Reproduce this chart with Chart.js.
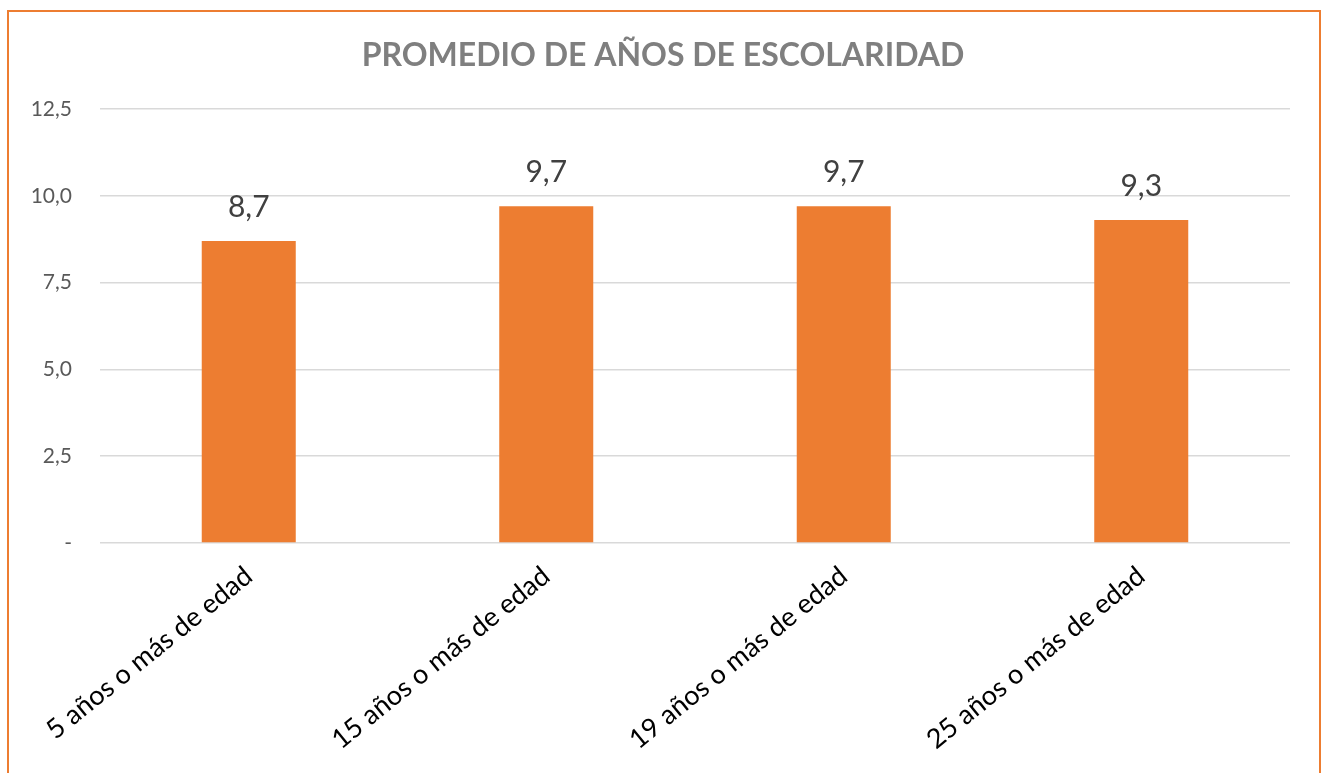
<!DOCTYPE html>
<html>
<head>
<meta charset="utf-8">
<script src="https://cdn.jsdelivr.net/npm/chart.js@4.4.1/dist/chart.umd.min.js"></script>
<style>
  html, body { margin: 0; padding: 0; background: #fff; }
  #wrap { position: relative; width: 1321px; height: 773px; overflow: hidden; }
  #frame { position: absolute; left: 7px; top: 10px; width: 1310px; height: 800px; border: 2px solid #ed7d31; }
  #c { position: absolute; left: 0; top: 0; }
</style>
</head>
<body>
<div id="wrap">
  <div id="frame"></div>
  <canvas id="c" width="1321" height="773"></canvas>
</div>
<script>
const titleText = 'PROMEDIO DE AÑOS DE ESCOLARIDAD';
const categories = ['5 años o más de edad', '15 años o más de edad', '19 años o más de edad', '25 años o más de edad'];
const values = [8.7, 9.7, 9.7, 9.3];
const yMax = 12.5;
const yStep = 2.5;

const fontFam = 'Lato, "Open Sans", sans-serif';

function comma(v, d) { return Number(v).toFixed(d).replace('.', ','); }

// title is centred on the whole frame, not on the plot area
const chartTitle = {
  id: 'chartTitle',
  afterDraw(chart) {
    const { ctx } = chart;
    ctx.save();
    ctx.font = 'bold 32px ' + fontFam;
    ctx.fillStyle = '#7f7f7f';
    ctx.textAlign = 'center';
    ctx.textBaseline = 'middle';
    ctx.fillText(titleText, 663, 56);
    ctx.restore();
  }
};

// value labels above each bar
const barLabels = {
  id: 'barLabels',
  afterDatasetsDraw(chart) {
    const { ctx } = chart;
    const meta = chart.getDatasetMeta(0);
    ctx.save();
    ctx.font = '30px ' + fontFam;
    ctx.fillStyle = '#404040';
    ctx.textAlign = 'center';
    ctx.textBaseline = 'bottom';
    meta.data.forEach((bar, i) => {
      ctx.fillText(comma(values[i], 1), bar.x, bar.y - 19);
    });
    ctx.restore();
  }
};

const chart = new Chart(document.getElementById('c'), {
  type: 'bar',
  data: {
    labels: categories,
    datasets: [{
      data: values,
      backgroundColor: '#ed7d31',
      barPercentage: 0.316,
      categoryPercentage: 1
    }]
  },
  options: {
    responsive: false,
    animation: false,
    layout: { padding: { left: 0, right: 31, top: 109, bottom: 0 } },
    plugins: {
      legend: { display: false },
      tooltip: { enabled: false },
      title: { display: false }
    },
    scales: {
      x: {
        grid: { display: false, drawTicks: false },
        border: { display: false },
        ticks: {
          autoSkip: false,
          minRotation: 39,
          maxRotation: 39,
          padding: 17,
          color: '#000',
          font: { family: fontFam, size: 27 }
        },
        afterFit(scale) { scale.height = 230; }
      },
      y: {
        min: 0,
        max: yMax,
        grid: { color: '#d9d9d9', lineWidth: 1.5, drawTicks: false },
        border: { display: false },
        ticks: {
          stepSize: yStep,
          padding: 28,
          color: '#595959',
          font: { family: fontFam, size: 21 },
          callback: v => v === 0 ? '-' : comma(v, 1)
        },
        afterFit(scale) { scale.width = 100; }
      }
    }
  },
  plugins: [barLabels, chartTitle]
});
</script>
</body>
</html>
